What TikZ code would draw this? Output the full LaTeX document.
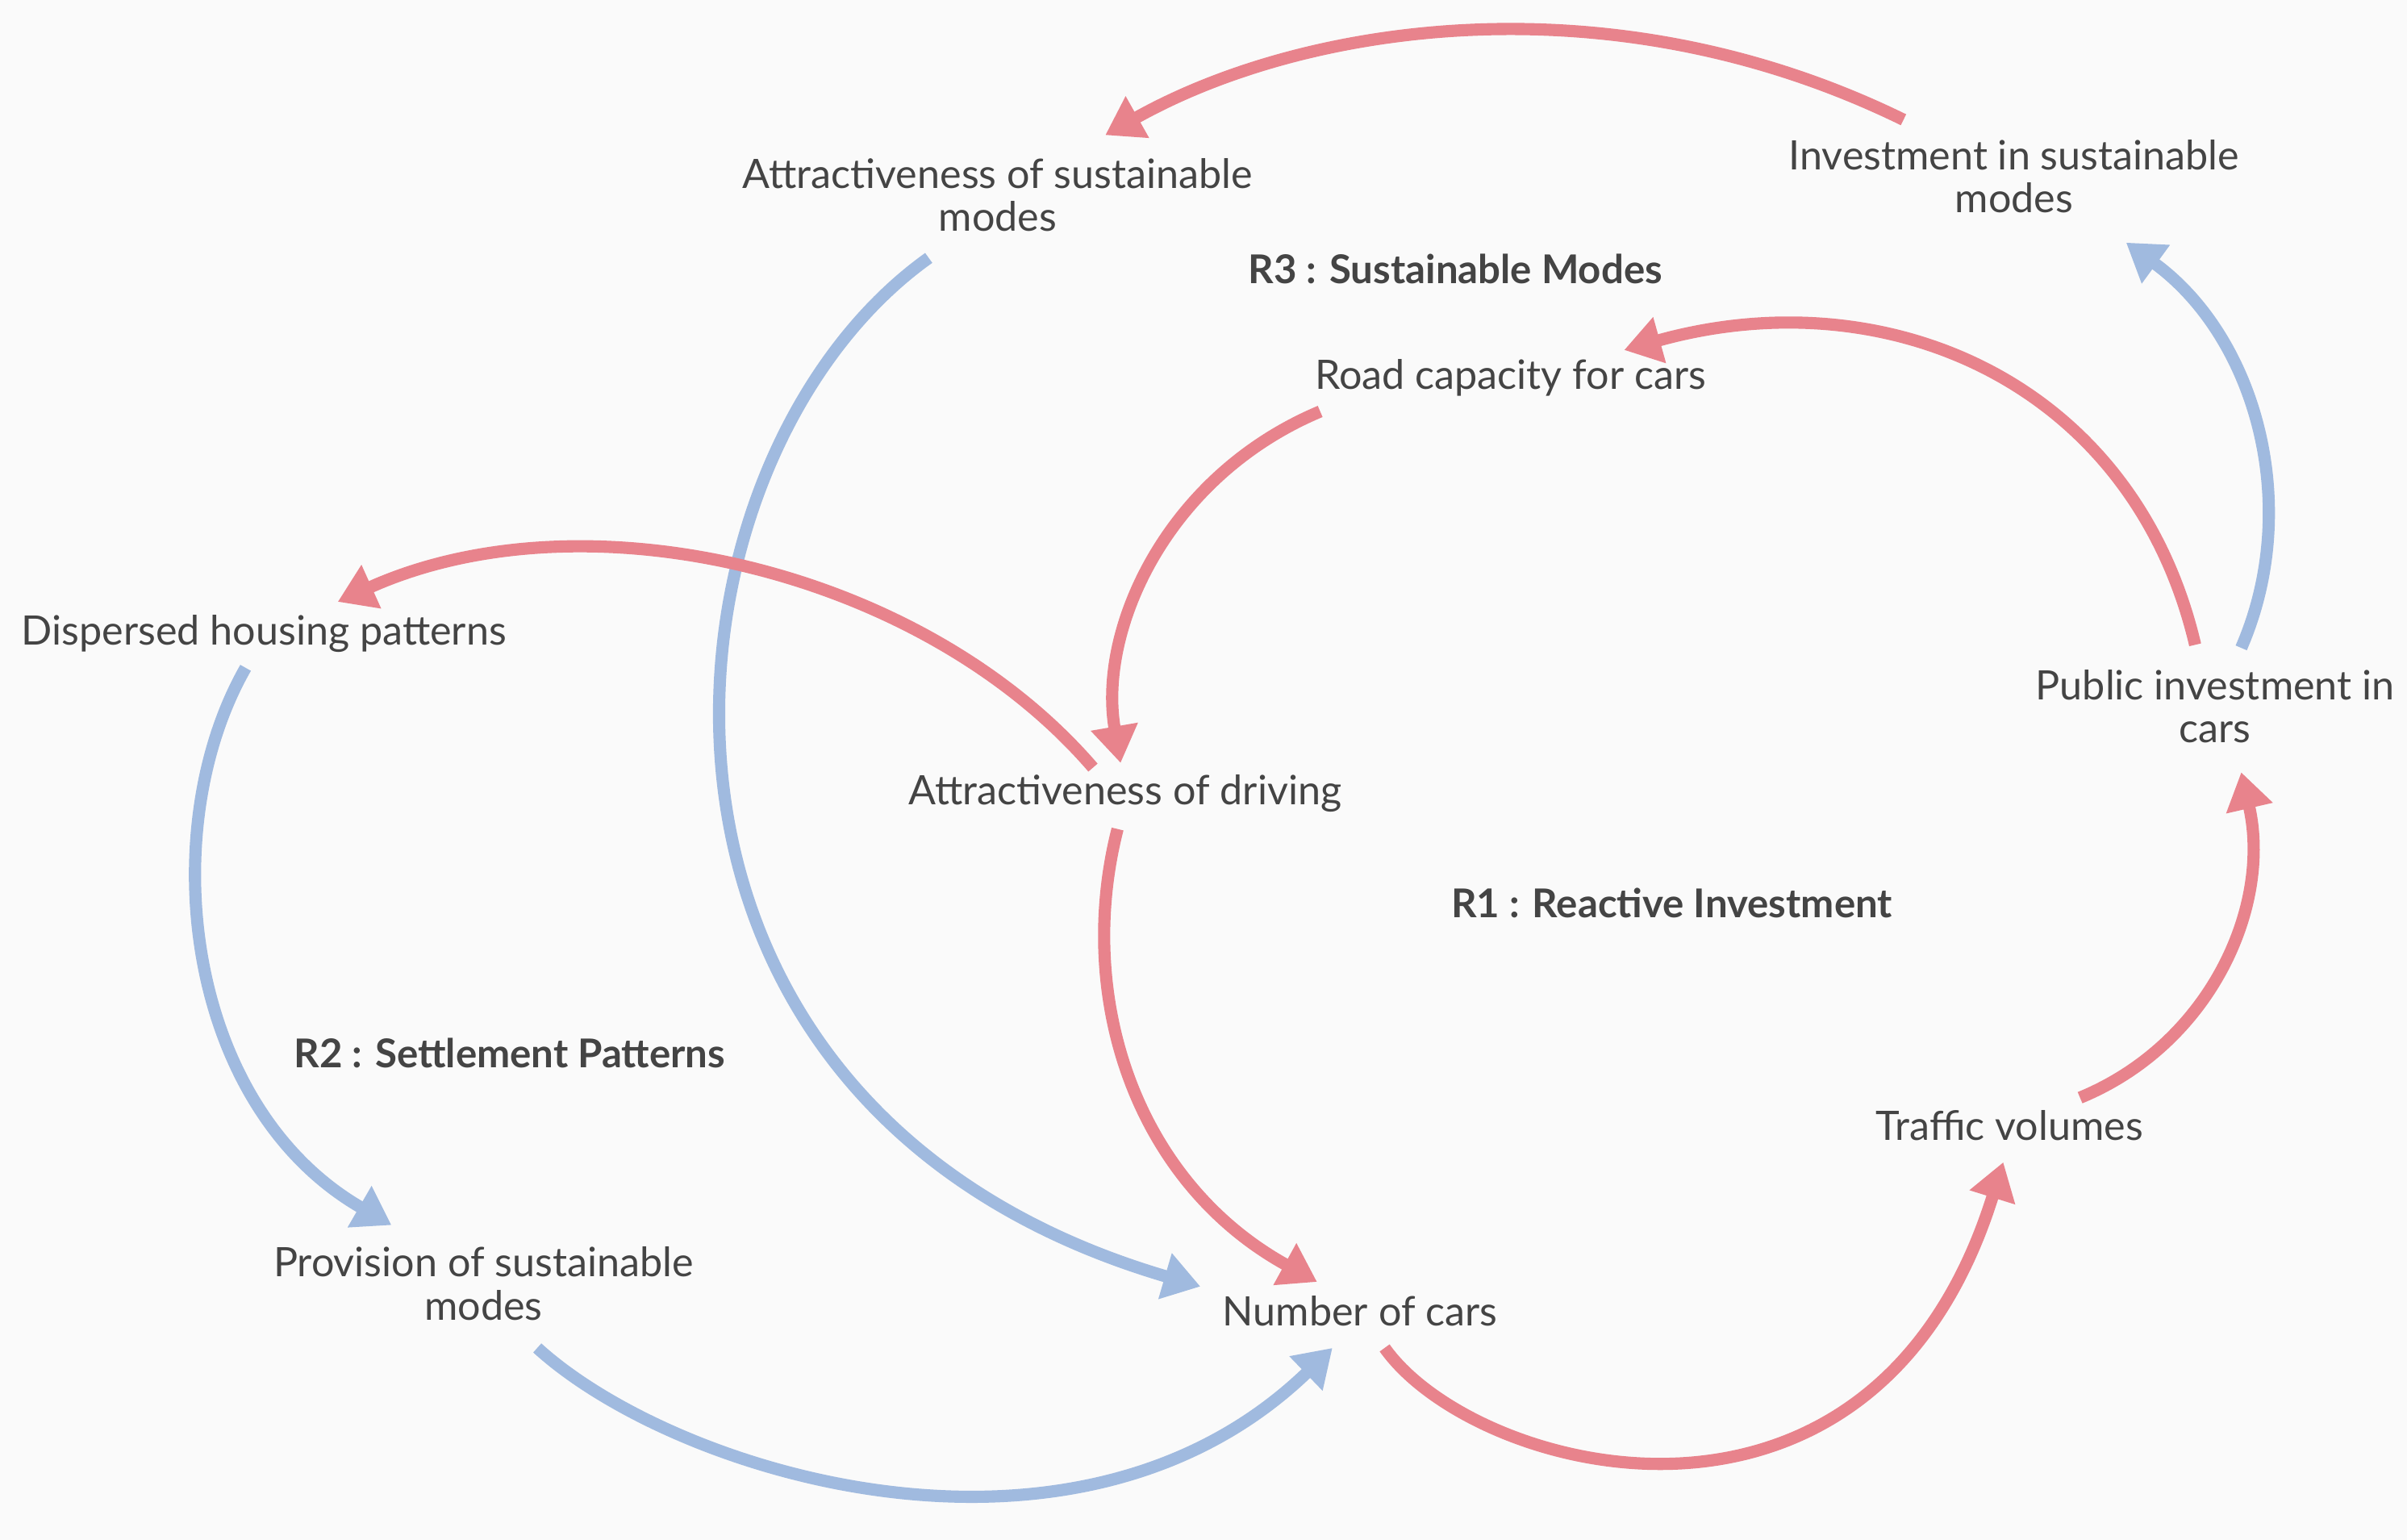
\documentclass[tikz,border=0pt]{standalone}
\usepackage{fontspec}
\setmainfont{Lato}
\usetikzlibrary{arrows.meta}
\definecolor{redc}{HTML}{E8838C}
\definecolor{bluec}{HTML}{A0BADF}
\definecolor{txt}{HTML}{444444}
\begin{document}
\begin{tikzpicture}[x=0.01903cm,y=-0.01903cm,
  lbl/.style={text=txt,font=\fontsize{14.3}{15.2}\selectfont,align=center},
  ttl/.style={text=txt,font=\fontsize{14}{15.2}\selectfont\bfseries,align=center},
  conn/.style={line width=4.3pt,-{Triangle[width=16pt,length=13pt]}},
  rc/.style={conn,draw=redc,color=redc},
  bc/.style={conn,draw=bluec,color=bluec}]
\useasboundingbox (0,0) rectangle (1568,1003);
\fill[white!98!black] (0,0) rectangle (1568,1003);
\node[lbl] (asm) at (650,127) {Attractiveness of sustainable\\modes};
\node[lbl] (ism) at (1312,115) {Investment in sustainable\\modes};
\node[ttl] (r3) at (948,175) {R3 : Sustainable Modes};
\node[lbl] (rcc) at (984,246) {Road capacity for cars};
\node[lbl] (dhp) at (172,413) {Dispersed housing patterns};
\node[lbl] (pic) at (1443,460) {Public investment in\\cars};
\node[lbl] (aod) at (733,517) {Attractiveness of driving};
\node[ttl] (r1) at (1089,588) {R1 : Reactive Investment};
\node[ttl] (r2) at (332,686) {R2 : Settlement Patterns};
\node[lbl] (tv) at (1309,733) {Traffic volumes};
\node[lbl] (psm) at (315,836) {Provision of sustainable\\modes};
\node[lbl] (noc) at (886,854) {Number of cars};
\coordinate (a1) at (1240,78); \coordinate (b1) at (720,88);
\coordinate (a2) at (1460,422); \coordinate (b2) at (1385,158);
\coordinate (a3) at (1430,420); \coordinate (b3) at (1058,228);
\coordinate (a4) at (860,268); \coordinate (b4) at (730,497);
\coordinate (a5) at (712,500); \coordinate (b5) at (220,392);
\coordinate (a6) at (605,168); \coordinate (b6) at (782,838);
\coordinate (a7) at (160,435); \coordinate (b7) at (255,798);
\coordinate (a8) at (728,540); \coordinate (b8) at (858,835);
\coordinate (a9) at (350,878); \coordinate (b9) at (868,878);
\coordinate (a10) at (902,878); \coordinate (b10) at (1305,757);
\coordinate (a11) at (1355,715); \coordinate (b11) at (1460,503);
\draw[bc] (a6) .. controls (420,300) and (380,720) .. (b6);
\draw[bc] (a7) .. controls (100,540) and (120,720) .. (b7);
\draw[bc] (a9) .. controls (440,960) and (700,1040) .. (b9);
\draw[bc] (a2) .. controls (1500,330) and (1470,220) .. (b2);
\draw[rc] (a1) .. controls (1050,-15) and (850,15) .. (b1);
\draw[rc] (a3) .. controls (1390,250) and (1230,180) .. (b3);
\draw[rc] (a4) .. controls (760,310) and (715,410) .. (b4);
\draw[rc] (a5) .. controls (600,370) and (380,320) .. (b5);
\draw[rc] (a8) .. controls (700,650) and (740,770) .. (b8);
\draw[rc] (a10) .. controls (960,960) and (1220,1030) .. (b10);
\draw[rc] (a11) .. controls (1440,680) and (1480,590) .. (b11);
\end{tikzpicture}
\end{document}
